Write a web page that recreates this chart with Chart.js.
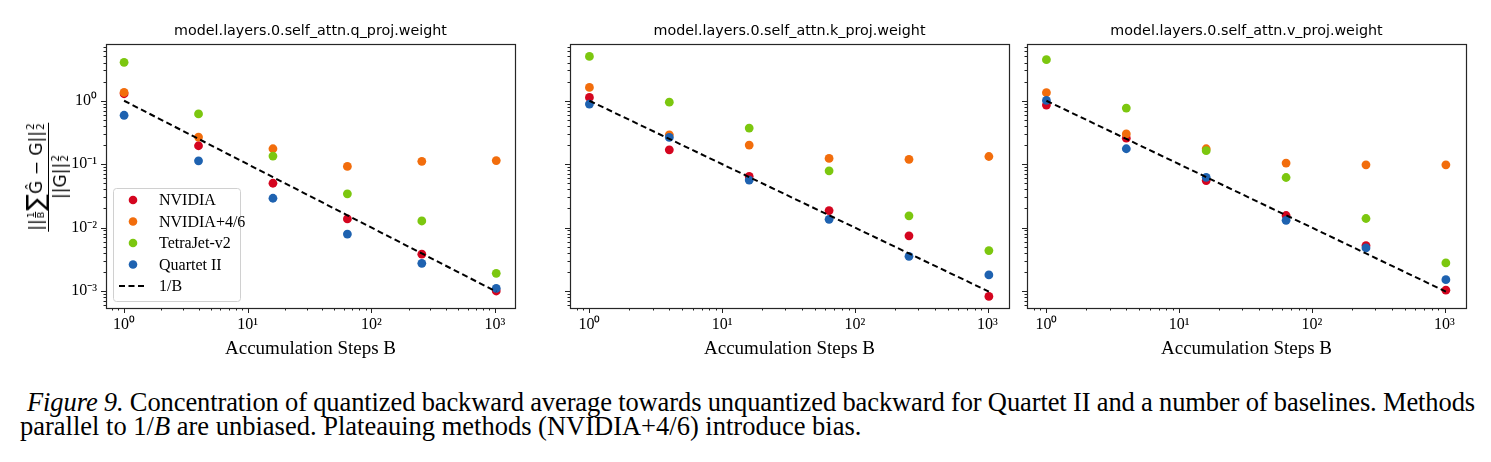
<!DOCTYPE html>
<html><head><meta charset="utf-8">
<script src="https://cdn.jsdelivr.net/npm/chart.js@4/dist/chart.umd.min.js"></script>
<style>
html,body{margin:0;padding:0;background:#fff;}
#wrap{position:relative;width:1491px;height:462px;overflow:hidden;background:#fff;}
canvas{position:absolute;top:0;}
#ylab{position:absolute;left:47px;top:177px;transform:translate(-50%,-50%) rotate(-90deg);font-family:'DejaVu Sans';font-size:17px;color:#000;white-space:nowrap;}
.frac{display:inline-flex;flex-direction:column;align-items:center;}
.num{display:flex;align-items:center;padding:0 1px 1px;border-bottom:1.2px solid #000;}
.den{display:flex;align-items:center;padding-top:1px;}
.sf{display:inline-flex;flex-direction:column;align-items:center;font-size:9.5px;line-height:9.5px;margin:0 1px;}
.sf span:first-child{border-bottom:1px solid #000;}
.ss{display:inline-flex;flex-direction:column;font-size:10.5px;line-height:9.5px;margin-left:1px;}
.big{font-size:25px;line-height:23px;}
#cap{position:absolute;left:20px;top:391px;width:1455px;font-family:'Liberation Serif';font-size:26.5px;line-height:23.5px;color:#000;}
.l1{text-align:justify;text-align-last:justify;padding-left:7px;white-space:nowrap;word-spacing:-4.5px;letter-spacing:-0.1px;}
</style>
</head><body>
<div id="wrap">
  <canvas id="c1" width="530" height="370" style="left:0px"></canvas>
  <canvas id="c2" width="490" height="370" style="left:530px"></canvas>
  <canvas id="c3" width="471" height="370" style="left:1020px"></canvas>
  <div id="ylab"><div class="frac">
    <div class="num">||<span class="sf"><span>1</span><span>B</span></span><span class="big">∑</span>Ĝ − G||<span class="ss"><span>2</span><span>2</span></span></div>
    <div class="den">||G||<span class="ss"><span>2</span><span>2</span></span></div>
  </div></div>
  <div id="cap">
    <div class="l1"><i>Figure 9.</i> Concentration of quantized backward average towards unquantized backward for Quartet II and a number of baselines. Methods</div>
    <div>parallel to 1/<i>B</i> are unbiased. Plateauing methods (NVIDIA+4/6) introduce bias.</div>
  </div>
</div>
<script>
// ---------- DATA ----------
const xSteps = [1, 4, 16, 64, 256, 1024];
const panelTitles = ['model.layers.0.self_attn.q_proj.weight','model.layers.0.self_attn.k_proj.weight','model.layers.0.self_attn.v_proj.weight'];
const seriesNames = ['NVIDIA', 'NVIDIA+4/6', 'TetraJet-v2', 'Quartet II', '1/B'];

const nvidiaQ  = [1.29, 0.195, 0.050, 0.0137, 0.0038, 0.00100];
const nv46Q    = [1.35, 0.267, 0.175, 0.092, 0.111, 0.114];
const tetraQ   = [4.03, 0.62, 0.134, 0.034, 0.0127, 0.0019];
const quartetQ = [0.59, 0.113, 0.029, 0.0079, 0.00273, 0.0011];

const nvidiaK  = [1.13, 0.168, 0.064, 0.0185, 0.0074, 0.00082];
const nv46K    = [1.62, 0.29, 0.20, 0.123, 0.119, 0.132];
const tetraK   = [5.0, 0.95, 0.37, 0.0785, 0.0153, 0.00434];
const quartetK = [0.885, 0.264, 0.056, 0.0135, 0.00352, 0.00179];

const nvidiaV  = [0.855, 0.257, 0.055, 0.0155, 0.0052, 0.00103];
const nv46V    = [1.34, 0.30, 0.175, 0.104, 0.0977, 0.0977];
const tetraV   = [4.44, 0.766, 0.163, 0.0616, 0.0139, 0.00277];
const quartetV = [1.01, 0.175, 0.062, 0.013, 0.00477, 0.00151];

const invB = [1, 0.25, 0.0625, 0.015625, 0.00390625, 0.0009765625];

const xTickValues = [1, 10, 100, 1000];
const xTickLabels = ['10⁰', '10¹', '10²', '10³'];
const yTickValues = [0.001, 0.01, 0.1, 1];
const yTickLabels = ['10⁻³', '10⁻²', '10⁻¹', '10⁰'];
const xTitle = 'Accumulation Steps B';

// ---------- STYLE ----------
const colors = ['#d4051f', '#f26d0c', '#7cc70f', '#1e62b0', '#000000'];
const X_MIN = 0.714, X_MAX = 1452, Y_MIN = 5.39e-4, Y_MAX = 7.86;

function pts(arr){ return xSteps.map((x,i)=>({x:x, y:arr[i]})); }

const framePlugin = {
  id:'frameTicks',
  afterDraw(chart){
    const ctx = chart.ctx, a = chart.chartArea;
    const xs = chart.scales.x, ys = chart.scales.y;
    ctx.save();
    ctx.strokeStyle = '#222'; ctx.lineWidth = 1;
    for (let n=-4; n<=4; n++){
      for (let k=1; k<=9; k++){
        const v = k*Math.pow(10,n);
        const len = k===1 ? 5 : 2.5;
        if (v>=X_MIN && v<=X_MAX){
          const px = Math.round(xs.getPixelForValue(v))+0.5;
          ctx.beginPath(); ctx.moveTo(px, a.bottom); ctx.lineTo(px, a.bottom+len); ctx.stroke();
        }
        if (v>=Y_MIN && v<=Y_MAX){
          const py = Math.round(ys.getPixelForValue(v))+0.5;
          ctx.beginPath(); ctx.moveTo(a.left, py); ctx.lineTo(a.left-len, py); ctx.stroke();
        }
      }
    }
    ctx.strokeStyle = '#262626'; ctx.lineWidth = 1.2;
    ctx.strokeRect(Math.round(a.left)+0.5, Math.round(a.top)+0.5, Math.round(a.right-a.left), Math.round(a.bottom-a.top));
    ctx.restore();
  }
};

const legendPlugin = {
  id:'insideLegend',
  afterDraw(chart){
    const ctx = chart.ctx;
    const bx=113, by=188, bw=127, bh=113;
    ctx.save();
    ctx.fillStyle='rgba(255,255,255,0.85)';
    ctx.strokeStyle='#d0d0d0'; ctx.lineWidth=1;
    ctx.beginPath(); ctx.roundRect(bx+0.5,by+0.5,bw,bh,3); ctx.fill(); ctx.stroke();
    ctx.font = '16px "Liberation Serif"'; ctx.textBaseline='middle'; ctx.textAlign='left';
    chart.data.datasets.forEach((ds,i)=>{
      const y = by + 12 + i*21.5;
      if (ds.showLine){
        ctx.strokeStyle = ds.borderColor; ctx.lineWidth = 2; ctx.setLineDash([6,3.5]);
        ctx.beginPath(); ctx.moveTo(119,y); ctx.lineTo(147,y); ctx.stroke(); ctx.setLineDash([]);
      } else {
        ctx.fillStyle = ds.backgroundColor;
        ctx.beginPath(); ctx.arc(133,y,4.3,0,Math.PI*2); ctx.fill();
      }
      ctx.fillStyle='#000';
      ctx.fillText(ds.label, 159, y+1);
    });
    ctx.restore();
  }
};

function makeChart(id, title, series, cfg){
  const datasets = series.map((arr,i)=>{
    if (i===4) return {label:seriesNames[i], data:pts(arr), showLine:true, borderColor:colors[i], backgroundColor:colors[i],
      borderWidth:2, borderDash:[6,3.5], pointRadius:0, order:0};
    return {label:seriesNames[i], data:pts(arr), backgroundColor:colors[i], borderColor:colors[i], borderWidth:0,
      pointRadius:4.4, pointHoverRadius:4.4, order:4-i};
  });
  const plugins = [framePlugin];
  if (cfg.legend) plugins.push(legendPlugin);
  return new Chart(document.getElementById(id), {
    type:'scatter',
    data:{datasets},
    plugins,
    options:{
      responsive:false, animation:false, devicePixelRatio:1,
      layout:{padding:{left:0, top:0, right:cfg.padRight, bottom:0}},
      plugins:{
        legend:{display:false}, tooltip:{enabled:false},
        title:{display:true, text:title, fullSize:false, color:'#000',
               font:{family:'DejaVu Sans', size:14.3, weight:'normal', lineHeight:1.2}, padding:{top:22.5, bottom:4.3}}
      },
      scales:{
        x:{type:'logarithmic', position:'bottom', min:X_MIN, max:X_MAX, bounds:'data',
           grid:{display:false, drawTicks:false}, border:{display:false},
           afterBuildTicks:s=>{ s.ticks = xTickValues.map(v=>({value:v, major:true})); },
           afterFit:s=>{ s.height = 62; },
           ticks:{autoSkip:false, maxRotation:0, padding:7, color:'#000',
                  font:{family:'Liberation Serif', size:16}, callback:(v,i)=>xTickLabels[i]},
           title:{display:true, text:xTitle, color:'#000', font:{family:'Liberation Serif', size:19},
                  padding:{top:0, bottom:10}}},
        y:{type:'logarithmic', position:'left', min:Y_MIN, max:Y_MAX, bounds:'data',
           grid:{display:false, drawTicks:false}, border:{display:false},
           afterBuildTicks:s=>{ s.ticks = yTickValues.map(v=>({value:v, major:true})); },
           afterFit:s=>{ s.width = cfg.yWidth; },
           ticks:{display:cfg.showY, autoSkip:false, padding:9, color:'#000',
                  font:{family:'Liberation Serif', size:16}, callback:(v,i)=>yTickLabels[i]}}
      }
    }
  });
}

makeChart('c1', panelTitles[0], [nvidiaQ, nv46Q, tetraQ, quartetQ, invB], {showY:true, yWidth:106, padRight:15, legend:true});
makeChart('c2', panelTitles[1], [nvidiaK, nv46K, tetraK, quartetK, invB], {showY:false, yWidth:40, padRight:11, legend:false});
makeChart('c3', panelTitles[2], [nvidiaV, nv46V, tetraV, quartetV, invB], {showY:false, yWidth:7, padRight:25, legend:false});
</script>
</body></html>
